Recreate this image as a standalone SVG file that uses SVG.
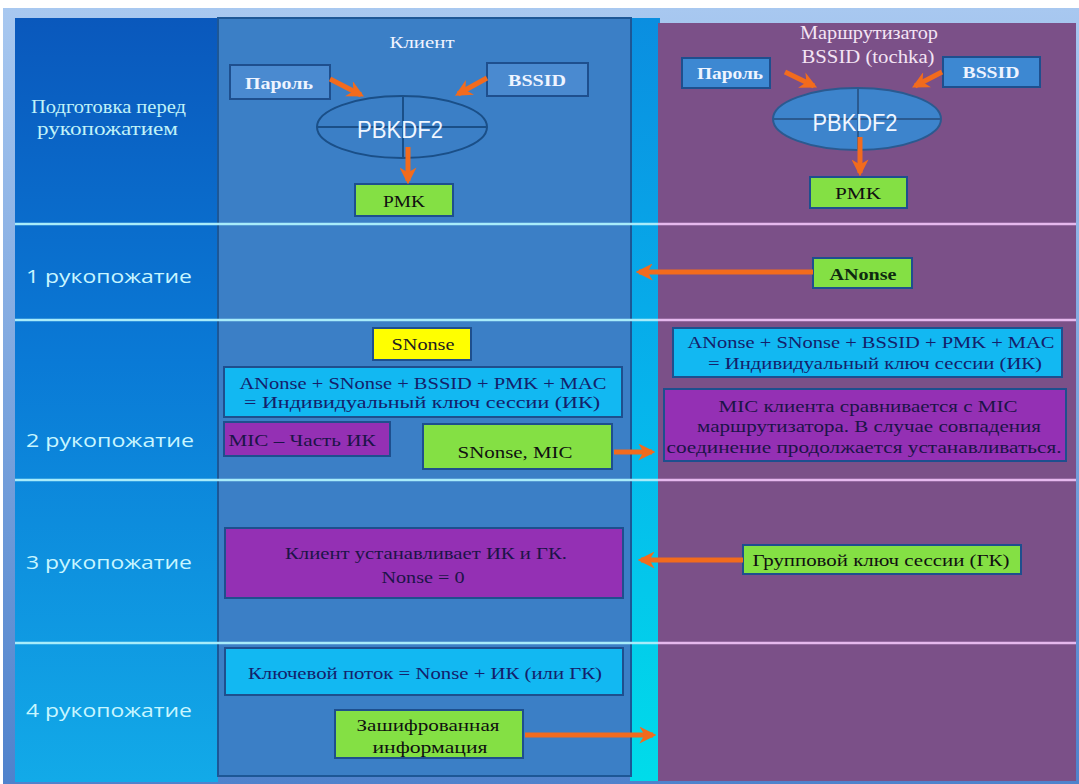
<svg xmlns="http://www.w3.org/2000/svg" width="1079" height="784" viewBox="0 0 1079 784">
<defs>
<linearGradient id="gFrame" x1="0" y1="0" x2="0" y2="1">
<stop offset="0" stop-color="#a8c8f0"/>
<stop offset="1" stop-color="#4f82cc"/>
</linearGradient>
<linearGradient id="gLeft" x1="0" y1="0" x2="0" y2="1">
<stop offset="0" stop-color="#0a58bc"/>
<stop offset="0.45" stop-color="#0a7ad6"/>
<stop offset="1" stop-color="#12aae8"/>
</linearGradient>
<linearGradient id="gStrip" x1="0" y1="0" x2="0" y2="1">
<stop offset="0" stop-color="#0a8ee0"/>
<stop offset="0.5" stop-color="#06b4ec"/>
<stop offset="1" stop-color="#00dcea"/>
</linearGradient>
<marker id="ah" viewBox="0 0 10 10" refX="8" refY="5" markerWidth="3.4" markerHeight="3.4" orient="auto" markerUnits="strokeWidth">
<path d="M0,0 L10,5 L0,10 L3,5 Z" fill="#f26b1d"/>
</marker>
<style>
.serif{font-family:"Liberation Serif","Times New Roman",serif}
.sans{font-family:"Liberation Sans",Arial,sans-serif}
.lbl{font-family:"Open Sans","Liberation Sans",Arial,sans-serif;font-size:19px;fill:#c8f6ff}
.box{stroke:#1e4f8e;stroke-width:2}
.blue{fill:#4a8ad0}
.green{fill:#84e044}
.yellow{fill:#ffff00}
.cyan{fill:#12b8f2}
.mag{fill:#9430b4}
.bt{font-family:"Liberation Serif","Times New Roman",serif;font-size:17px;text-anchor:middle}
.dark{fill:#14206a}
.ink{fill:#1c1448}
.blk{fill:#101010}
.wt{fill:#eef4ff;font-weight:bold}
.arr{stroke:#f26b1d;stroke-width:5;fill:none;marker-end:url(#ah)}
.sepL{stroke:#a8ecfa;stroke-width:2.5}
.sepR{stroke:#e6b8ee;stroke-width:2.5}
</style>
</defs>

<g id="background">
<rect x="0" y="0" width="1079" height="784" fill="#ffffff"/>
<rect x="3" y="8" width="1076" height="776" fill="url(#gFrame)"/>
<rect x="15" y="18" width="203" height="764" fill="url(#gLeft)"/>
<rect x="630" y="18" width="30" height="763" fill="url(#gStrip)"/>
<rect x="218" y="18" width="413" height="758" fill="#3b7fc6" stroke="#1d5796" stroke-width="2"/>
<rect x="658" y="23" width="418" height="758" fill="#7b5088"/>
</g>

<g id="separators">
<line class="sepL" x1="15" y1="224" x2="658" y2="224"/>
<line class="sepR" x1="658" y1="224" x2="1076" y2="224"/>
<line class="sepL" x1="15" y1="320" x2="658" y2="320"/>
<line class="sepR" x1="658" y1="320" x2="1076" y2="320"/>
<line class="sepL" x1="15" y1="480" x2="658" y2="480"/>
<line class="sepR" x1="658" y1="480" x2="1076" y2="480"/>
<line class="sepL" x1="15" y1="643" x2="658" y2="643"/>
<line class="sepR" x1="658" y1="643" x2="1076" y2="643"/>
</g>

<g id="row-labels">
<text class="serif" x="108.5" y="113" font-size="18" fill="#c0f2f8" text-anchor="middle" textLength="155" lengthAdjust="spacingAndGlyphs">Подготовка перед</text>
<text class="serif" x="107.5" y="135" font-size="18" fill="#c0f2f8" text-anchor="middle" textLength="141" lengthAdjust="spacingAndGlyphs">рукопожатием</text>
<text class="lbl" x="26" y="283" textLength="166" lengthAdjust="spacingAndGlyphs">1 рукопожатие</text>
<text class="lbl" x="26" y="447" textLength="168" lengthAdjust="spacingAndGlyphs">2 рукопожатие</text>
<text class="lbl" x="26" y="569" textLength="166" lengthAdjust="spacingAndGlyphs">3 рукопожатие</text>
<text class="lbl" x="26" y="717" textLength="166" lengthAdjust="spacingAndGlyphs">4 рукопожатие</text>
</g>

<g id="client-title">
<text class="serif" x="422" y="48" font-size="16" fill="#f0f4ff" text-anchor="middle" textLength="65" lengthAdjust="spacingAndGlyphs">Клиент</text>
</g>

<g id="router-title">
<text class="serif" x="869" y="39" font-size="18" fill="#f4e4f4" text-anchor="middle" textLength="138" lengthAdjust="spacingAndGlyphs">Маршрутизатор</text>
<text class="serif" x="868" y="63" font-size="18" fill="#f4e4f4" text-anchor="middle" textLength="133" lengthAdjust="spacingAndGlyphs">BSSID (tochka)</text>
</g>

<g id="client-password">
<rect class="box blue" x="230" y="65" width="100" height="34"/>
<text class="bt wt" x="279" y="89" textLength="68" lengthAdjust="spacingAndGlyphs">Пароль</text>
</g>
<g id="client-bssid">
<rect class="box blue" x="487" y="63" width="101" height="33"/>
<text class="bt wt" x="537" y="86" textLength="58" lengthAdjust="spacingAndGlyphs">BSSID</text>
</g>
<g id="client-pbkdf2">
<ellipse cx="402" cy="127" rx="85" ry="31" fill="#3b7fc6" stroke="#1a4f88" stroke-width="2"/>
<line x1="317" y1="127" x2="487" y2="127" stroke="#1a4f88" stroke-width="2"/>
<line x1="403" y1="96" x2="403" y2="158" stroke="#1a4f88" stroke-width="2"/>
<text class="sans" x="400" y="138" font-size="23" fill="#f0f6ff" text-anchor="middle" textLength="86" lengthAdjust="spacingAndGlyphs">PBKDF2</text>
</g>
<g id="client-pmk">
<rect class="box green" x="355" y="184" width="98" height="32"/>
<text class="bt blk" x="404" y="207" textLength="42" lengthAdjust="spacingAndGlyphs">PMK</text>
</g>

<g id="router-password">
<rect class="box" fill="#3d88d2" x="682" y="58" width="88" height="30"/>
<text class="bt wt" x="730" y="79" textLength="66" lengthAdjust="spacingAndGlyphs">Пароль</text>
</g>
<g id="router-bssid">
<rect class="box" fill="#3d88d2" x="943" y="57" width="97" height="30"/>
<text class="bt wt" x="991" y="78" textLength="57" lengthAdjust="spacingAndGlyphs">BSSID</text>
</g>
<g id="router-pbkdf2">
<ellipse cx="857" cy="119" rx="84" ry="31" fill="#3d84cc" stroke="#2a5a90" stroke-width="2"/>
<line x1="773" y1="119" x2="941" y2="119" stroke="#2a5a90" stroke-width="2"/>
<line x1="858" y1="88" x2="858" y2="150" stroke="#2a5a90" stroke-width="2"/>
<text class="sans" x="855" y="131" font-size="23" fill="#f0f6ff" text-anchor="middle" textLength="85" lengthAdjust="spacingAndGlyphs">PBKDF2</text>
</g>
<g id="router-pmk">
<rect class="box green" x="810" y="177" width="97" height="31"/>
<text class="bt blk" x="858" y="199" textLength="46" lengthAdjust="spacingAndGlyphs">PMK</text>
</g>

<g id="anonse">
<rect class="box green" x="813" y="258" width="99" height="30"/>
<text class="bt" x="863" y="280" fill="#0e2a10" font-weight="bold" textLength="67" lengthAdjust="spacingAndGlyphs">ANonse</text>
</g>

<g id="snonse">
<rect class="box yellow" x="373" y="328" width="98" height="32"/>
<text class="bt" x="423" y="350" fill="#202020" textLength="63" lengthAdjust="spacingAndGlyphs">SNonse</text>
</g>
<g id="client-ptk">
<rect class="box cyan" x="224" y="367" width="398" height="50"/>
<text class="bt dark" x="423" y="389" textLength="367" lengthAdjust="spacingAndGlyphs">ANonse + SNonse + BSSID + PMK + MAC</text>
<text class="bt dark" x="422" y="408" textLength="356" lengthAdjust="spacingAndGlyphs">= Индивидуальный ключ сессии (ИК)</text>
</g>
<g id="client-mic">
<rect class="box mag" x="224" y="422" width="166" height="34"/>
<text class="bt ink" x="302" y="446" textLength="147" lengthAdjust="spacingAndGlyphs">MIC – Часть ИК</text>
</g>
<g id="snonse-mic">
<rect class="box green" x="423" y="424" width="189" height="45"/>
<text class="bt blk" x="515" y="458" textLength="115" lengthAdjust="spacingAndGlyphs">SNonse, MIC</text>
</g>
<g id="router-ptk">
<rect class="box cyan" x="673" y="328" width="389" height="49"/>
<text class="bt dark" x="871" y="348" textLength="367" lengthAdjust="spacingAndGlyphs">ANonse + SNonse + BSSID + PMK + MAC</text>
<text class="bt dark" x="875" y="369" textLength="334" lengthAdjust="spacingAndGlyphs">= Индивидуальный ключ сессии (ИК)</text>
</g>
<g id="router-mic">
<rect class="box mag" x="664" y="389" width="402" height="72"/>
<text class="bt ink" x="868" y="412" textLength="299" lengthAdjust="spacingAndGlyphs">MIC клиента сравнивается с MIC</text>
<text class="bt ink" x="869" y="432" textLength="344" lengthAdjust="spacingAndGlyphs">маршрутизатора. В случае совпадения</text>
<text class="bt ink" x="864" y="453" textLength="395" lengthAdjust="spacingAndGlyphs">соединение продолжается устанавливаться.</text>
</g>

<g id="client-install">
<rect class="box mag" x="225" y="528" width="398" height="70"/>
<text class="bt ink" x="426" y="559" textLength="282" lengthAdjust="spacingAndGlyphs">Клиент устанавливает ИК и ГК.</text>
<text class="bt ink" x="423" y="583" textLength="83" lengthAdjust="spacingAndGlyphs">Nonse = 0</text>
</g>
<g id="gtk">
<rect class="box green" x="743" y="545" width="278" height="29"/>
<text class="bt blk" x="881" y="566" textLength="257" lengthAdjust="spacingAndGlyphs">Групповой ключ сессии (ГК)</text>
</g>

<g id="keystream">
<rect class="box cyan" x="225" y="648" width="398" height="47"/>
<text class="bt dark" x="425" y="679" textLength="354" lengthAdjust="spacingAndGlyphs">Ключевой поток = Nonse + ИК (или ГК)</text>
</g>
<g id="encrypted">
<rect class="box green" x="335" y="710" width="188" height="48"/>
<text class="bt blk" x="428" y="731" textLength="143" lengthAdjust="spacingAndGlyphs">Зашифрованная</text>
<text class="bt blk" x="430" y="753" textLength="115" lengthAdjust="spacingAndGlyphs">информация</text>
</g>

<g id="connectors">
<line class="arr" x1="330" y1="79" x2="361" y2="95"/>
<line class="arr" x1="487" y1="78" x2="458" y2="94"/>
<line class="arr" x1="408" y1="147" x2="408" y2="181"/>
<line class="arr" x1="785" y1="72" x2="814" y2="86"/>
<line class="arr" x1="942" y1="72" x2="915" y2="86"/>
<line class="arr" x1="860" y1="137" x2="860" y2="173"/>
<line class="arr" x1="813" y1="272" x2="639" y2="272"/>
<line class="arr" x1="614" y1="452" x2="652" y2="452"/>
<line class="arr" x1="743" y1="560" x2="641" y2="560"/>
<line class="arr" x1="525" y1="735" x2="653" y2="735"/>
</g>
</svg>
